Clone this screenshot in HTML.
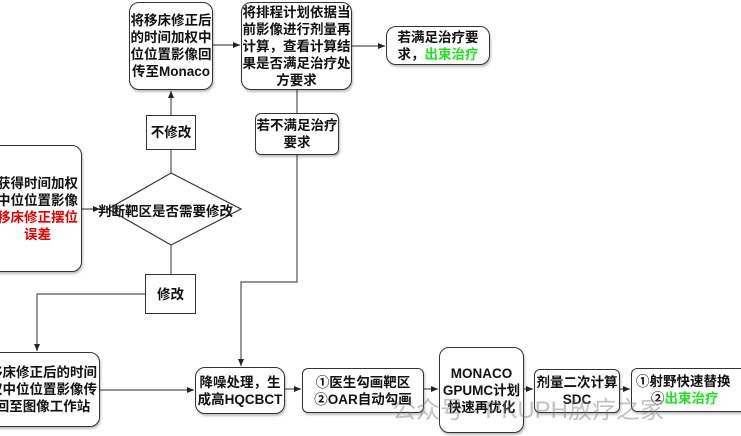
<!DOCTYPE html>
<html><head><meta charset="utf-8"><style>
body{margin:0;width:741px;height:436px;overflow:hidden;background:#fff;position:relative;font-family:"Liberation Sans","Noto Sans CJK SC",sans-serif;}
.b{position:absolute;border:1.3px solid #333;background:#fff;box-sizing:border-box;display:flex;align-items:center;justify-content:center;text-align:center;font-weight:bold;font-size:13.5px;line-height:17px;color:#111;box-shadow:1px 2px 2px rgba(0,0,0,0.25);}
.b>div{width:100%}
.r{border-radius:10px}
.red{color:#e00000}.grn{color:#22e022}
svg{position:absolute;left:0;top:0}
</style></head><body>
<svg width="741" height="436">
<defs><marker id="a" markerWidth="8" markerHeight="8" refX="7" refY="4" orient="auto" markerUnits="userSpaceOnUse"><path d="M0,1 L7,4 L0,7z" fill="#222"/></marker></defs>
<g stroke="#555" stroke-width="1.2" fill="none">
<polygon points="171,173 241,209 171,245 108,209" fill="#fff" stroke="#333"/>
<line x1="213" y1="45" x2="240" y2="45" marker-end="url(#a)"/>
<line x1="352" y1="46" x2="385" y2="46" marker-end="url(#a)"/>
<line x1="171" y1="173" x2="171" y2="91" marker-end="url(#a)"/>
<line x1="82" y1="209" x2="100" y2="209" marker-end="url(#a)"/>
<line x1="171" y1="245" x2="171" y2="274"/>
<polyline points="145,294 37,294 37,351" marker-end="url(#a)"/>
<polyline points="297,90 297,282 241,282 241,366" marker-end="url(#a)"/>
<line x1="100" y1="390" x2="194" y2="390" marker-end="url(#a)"/>
<line x1="285" y1="389" x2="301" y2="389" marker-end="url(#a)"/>
<line x1="424" y1="389" x2="438" y2="389" marker-end="url(#a)"/>
<line x1="524" y1="389" x2="533" y2="389" marker-end="url(#a)"/>
<line x1="620" y1="389" x2="630" y2="389" marker-end="url(#a)"/>
</g>
</svg>
<div class="b r" style="left:129px;top:2px;width:84px;height:88px;"><div>将移床修正后的时间加权中位位置影像回传至Monaco</div></div>
<div class="b r" style="left:241px;top:2px;width:111px;height:88px;"><div>将排程计划依据当前影像进行剂量再计算，查看计算结果是否满足治疗处方要求</div></div>
<div class="b r" style="left:386px;top:26px;width:104px;height:39px;"><div>若满足治疗要求，<span class="grn">出束治疗</span></div></div>
<div class="b" style="left:146px;top:115px;width:50px;height:35px;box-shadow:none"><div>不修改</div></div>
<div class="b r" style="left:255px;top:113px;width:84px;height:42px;border-radius:6px"><div>若不满足治疗要求</div></div>
<div class="b r" style="left:-14px;top:145px;width:96px;height:127px;justify-content:flex-start"><div style="width:auto;margin-left:10px;text-align:center">获得时间加权<br>中位位置影像<br><span class="red">移床修正摆位<br>误差</span></div></div>
<div style="position:absolute;left:98px;top:200px;font-weight:bold;font-size:13.5px;color:#111">判断靶区是否需要修改</div>
<div class="b" style="left:145px;top:274px;width:51px;height:40px;box-shadow:none"><div>修改</div></div>
<div class="b r" style="left:-20px;top:352px;width:120px;height:75px;"><div style="margin-left:6px">移床修正后的时间<br>权中位位置影像传<br>回至图像工作站</div></div>
<div class="b r" style="left:195px;top:367px;width:90px;height:47px;"><div>降噪处理，生成高HQCBCT</div></div>
<div class="b r" style="left:302px;top:368px;width:122px;height:45px;border-radius:6px"><div>①医生勾画靶区<br>②OAR自动勾画</div></div>
<div class="b r" style="left:439px;top:347px;width:85px;height:86px;"><div>MONACO GPUMC计划快速再优化</div></div>
<div class="b r" style="left:534px;top:369px;width:86px;height:44px;border-radius:6px"><div>剂量二次计算SDC</div></div>
<div class="b r" style="left:631px;top:368px;width:120px;height:44px;border-radius:6px;justify-content:flex-start"><div style="text-align:left;padding-left:4px;white-space:nowrap">①射野快速替换<br>&nbsp;&nbsp;&nbsp;&nbsp;②<span class="grn">出束治疗</span></div></div>
<div style="position:absolute;left:392px;top:390px;font-size:24px;color:rgba(120,120,120,0.45);white-space:nowrap">公众号 · PKUPH放疗之家</div>
</body></html>
